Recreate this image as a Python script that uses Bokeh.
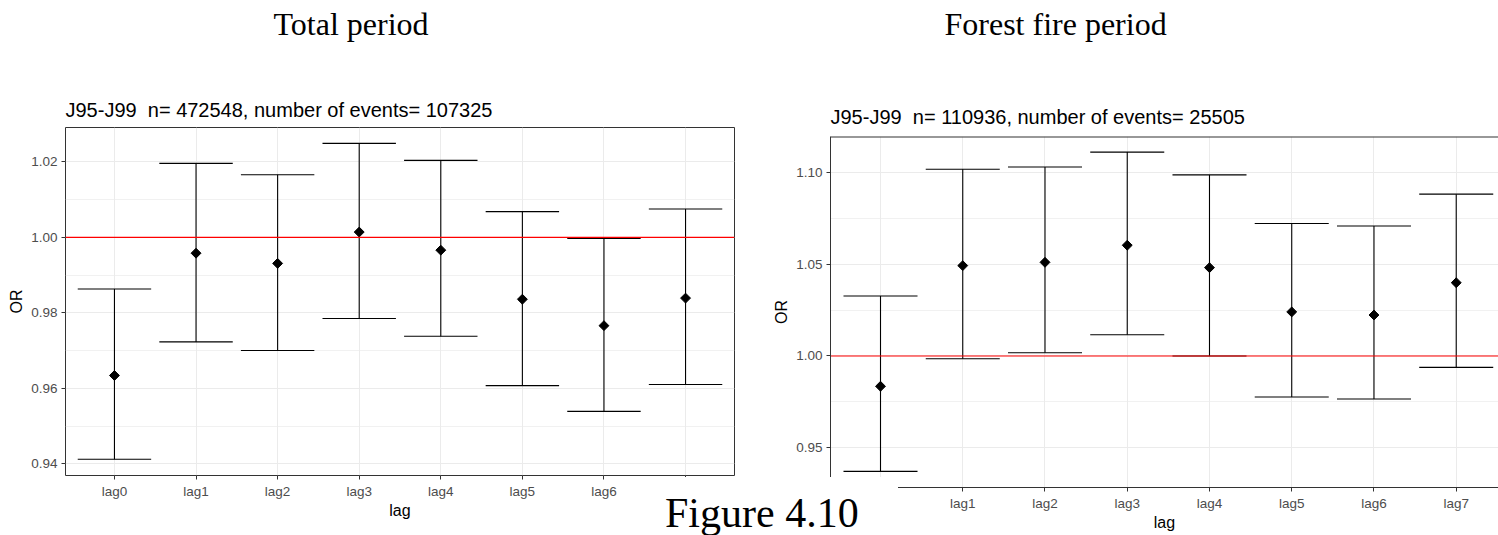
import numpy as np
from bokeh.plotting import figure
from bokeh.models import Range1d, FixedTicker, Title, Div, PrintfTickFormatter
from bokeh.embed import file_html
from bokeh.resources import INLINE

# ---------------- data ----------------
lags = ["lag0", "lag1", "lag2", "lag3", "lag4", "lag5", "lag6", "lag7"]

total_or    = [0.9634, 0.9958, 0.9931, 1.0014, 0.9966, 0.9836, 0.9766, 0.9839]
total_lower = [0.9412, 0.9723, 0.9700, 0.9785, 0.9738, 0.9607, 0.9539, 0.9610]
total_upper = [0.9863, 1.0196, 1.0166, 1.0249, 1.0204, 1.0068, 0.9997, 1.0075]

fire_or    = [0.9835, 1.0492, 1.0510, 1.0603, 1.0481, 1.0240, 1.0223, 1.0399]
fire_lower = [0.9372, 0.9985, 1.0018, 1.0116, 1.0000, 0.9777, 0.9766, 0.9938]
fire_upper = [1.0327, 1.1017, 1.1029, 1.1110, 1.0986, 1.0721, 1.0708, 1.0881]

total_y_ticks = [0.94, 0.96, 0.98, 1.00, 1.02]
total_y_minor = [0.95, 0.97, 0.99, 1.01]
fire_y_ticks = [0.95, 1.00, 1.05, 1.10]
fire_y_minor = [0.975, 1.025, 1.075]

reference_or = 1.0

total_header = "Total period"
fire_header = "Forest fire period"
total_title = "J95-J99\u00a0 n= 472548, number of events= 107325"
fire_title = "J95-J99\u00a0 n= 110936, number of events= 25505"
caption_text = "Figure 4.10"
x_title = "lag"
y_title = "OR"

# ---------------- style ----------------
SANS = "Liberation Sans"
SERIF = "Liberation Serif"
GRID = "#EBEBEB"
DARK = "#333333"
TICK_TXT = "#4D4D4D"
H = 535
TITLE_PX = 20
HEADER_PX = 32
LINE_H = 1.15      # approx text box height / font size
DESC = 0.21        # approx descent / font size


def build(width, b_left, b_right, b_top, b_bottom, xr, yr, ors, lows, ups,
          yticks, yminor, title, header, header_left, title_base, header_base, boxed):
    p = figure(width=width, height=H, x_range=Range1d(*xr), y_range=Range1d(*yr),
               min_border_left=b_left, min_border_right=b_right,
               min_border_top=b_top, min_border_bottom=b_bottom,
               output_backend="svg", toolbar_location=None, title_location=None,
               x_axis_label=x_title, y_axis_label=y_title)
    p.background_fill_color = "white"
    p.border_fill_color = "white"

    xs = list(range(len(lags)))
    half = 0.45

    # grid
    p.xgrid.ticker = FixedTicker(ticks=xs)
    p.xgrid.grid_line_color = GRID
    p.ygrid.ticker = FixedTicker(ticks=yticks, minor_ticks=yminor)
    p.ygrid.grid_line_color = GRID
    p.ygrid.minor_grid_line_color = GRID
    p.ygrid.minor_grid_line_width = 0.7

    # axes
    p.xaxis.ticker = FixedTicker(ticks=xs)
    p.xaxis.major_label_overrides = {i: lab for i, lab in enumerate(lags)}
    p.yaxis.ticker = FixedTicker(ticks=yticks, minor_ticks=yminor)
    p.yaxis.formatter = PrintfTickFormatter(format="%.2f")
    for ax in list(p.xaxis) + list(p.yaxis):
        ax.major_tick_line_color = DARK
        ax.major_tick_out = 4
        ax.major_tick_in = 0
        ax.minor_tick_line_color = None
        ax.axis_line_color = None if boxed else DARK
        ax.major_label_text_font = SANS
        ax.major_label_text_font_size = "13.5px"
        ax.major_label_text_color = TICK_TXT
        ax.major_label_standoff = 4
        ax.axis_label_text_font = SANS
        ax.axis_label_text_font_size = "16px"
        ax.axis_label_text_font_style = "normal"
        ax.axis_label_text_color = "black"
    p.xaxis.axis_label_standoff = 0
    p.yaxis.axis_label_standoff = 3

    if boxed:
        p.outline_line_color = DARK
        p.outline_line_width = 1
    else:
        p.outline_line_color = None
        # top border only (panel continues past the right edge of the picture)
        p.segment(x0=[xr[0]], y0=[yr[1]], x1=[xr[1]], y1=[yr[1]],
                  line_color=DARK, line_width=2)

    # error bars
    p.segment(x0=xs, y0=lows, x1=xs, y1=ups, line_color="black", line_width=1.1)
    p.segment(x0=[x - half for x in xs], y0=ups, x1=[x + half for x in xs], y1=ups,
              line_color="black", line_width=1.1)
    p.segment(x0=[x - half for x in xs], y0=lows, x1=[x + half for x in xs], y1=lows,
              line_color="black", line_width=1.1)
    p.scatter(xs, ors, marker="square", angle=np.pi / 4, size=7,
              fill_color="black", line_color="black")

    # reference line at OR = 1 (drawn on top of the error bars)
    p.segment(x0=[xr[0]], y0=[reference_or], x1=[xr[1]], y1=[reference_or],
              line_color="#FF0000", line_width=1.2)

    # titles stacked above the frame: plot title, spacer, header
    title_bottom = title_base + DESC * TITLE_PX
    s_title = 2 * (b_top - title_bottom)
    top_title = b_top - (2 + LINE_H * TITLE_PX + s_title)
    header_bottom = header_base + DESC * HEADER_PX
    spacer = top_title - header_bottom - 2 - LINE_H * 1

    p.add_layout(Title(text=title, align="left", offset=0, vertical_align="bottom",
                       standoff=s_title, text_font=SANS, text_font_size=f"{TITLE_PX}px",
                       text_font_style="normal", text_color="black"), "above")
    p.add_layout(Title(text=" ", align="left", vertical_align="bottom", standoff=spacer,
                       text_font_size="1px"), "above")
    p.add_layout(Title(text=header, align="left", offset=header_left - b_left,
                       vertical_align="bottom", standoff=0, text_font=SERIF,
                       text_font_size=f"{HEADER_PX}px", text_font_style="normal",
                       text_color="black"), "above")
    return p


p1 = build(755, 65, 21, 127, 60, (-0.6, 7.6), (0.9369, 1.0291),
           total_or, total_lower, total_upper, total_y_ticks, total_y_minor,
           total_title, total_header, 273, 116, 34, True)
p2 = build(743, 75, 0, 136, 48, (-0.608, 7.514), (0.9284, 1.1195),
           fire_or, fire_lower, fire_upper, fire_y_ticks, fire_y_minor,
           fire_title, fire_header, 944 - 755, 123.5, 34, False)
p2.styles = {"position": "absolute", "left": "755px", "top": "0px"}

caption = Div(
    text=('<div style="font-family:\'Liberation Serif\';font-size:42px;line-height:42px;'
          'padding:15px 0 0 25px;color:#000;white-space:nowrap;">' + caption_text + '</div>'),
    width=258, height=58, margin=0,
    styles={"position": "absolute", "left": "640px", "top": "477px",
            "background-color": "#ffffff", "z-index": "10"})

open("out.html", "w").write(file_html([p1, p2, caption], INLINE))
